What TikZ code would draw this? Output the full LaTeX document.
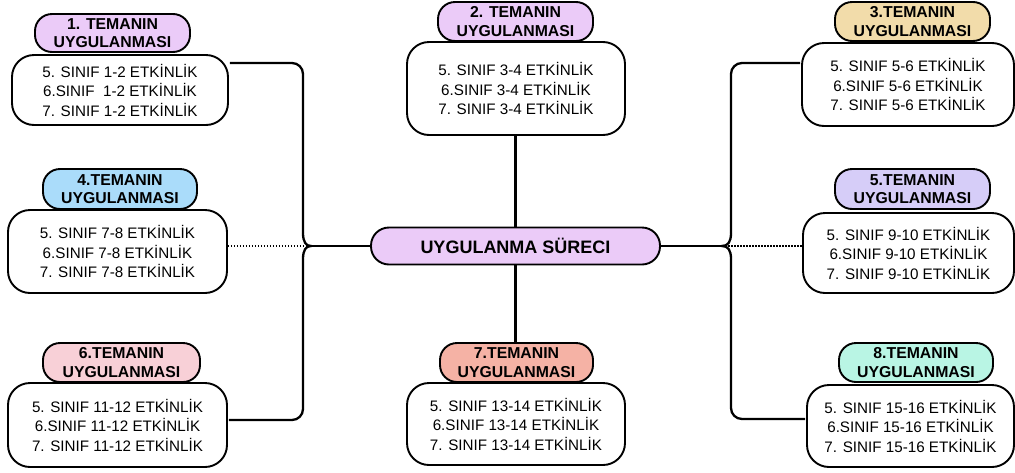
\documentclass[tikz,border=0pt]{standalone}
\usepackage{fontspec}
\setmainfont{Liberation Sans}
\usetikzlibrary{calc}
\definecolor{lilac}{HTML}{EBCBF8}
\definecolor{sand}{HTML}{F2DCAA}
\definecolor{sky}{HTML}{AADCFA}
\definecolor{lavender}{HTML}{D6CDF8}
\definecolor{blush}{HTML}{F8D0D7}
\definecolor{salmon}{HTML}{F5B2A5}
\definecolor{mint}{HTML}{B9F5E4}
\begin{document}
\begin{tikzpicture}[x=1pt,y=-1pt,
  body/.style={draw=black, line width=1.9pt, fill=white, rounded corners=22pt,
    align=center, inner sep=0pt, font=\fontsize{15.2}{19.5}\selectfont},
  title/.style={draw=black, line width=1.9pt, rounded corners=17pt,
    align=center, inner sep=0pt, font=\bfseries\fontsize{15.8}{18.5}\selectfont},
  hub/.style={draw=black, line width=1.9pt, fill=lilac, rounded corners=18pt,
    inner sep=0pt, font=\bfseries\fontsize{18}{20}\selectfont},
  conn/.style={draw=black, line width=2.3pt},
  dots/.style={draw=black, line width=1.4pt, dash pattern=on 1.5pt off 1.5pt}]
\useasboundingbox (0,0) rectangle (1015,472);

% central node
\node[hub, minimum width=289pt, minimum height=37pt] (hub) at (515.5,246) {UYGULANMA SÜRECI};

% activity boxes
\node[body, minimum width=216pt, minimum height=70pt] (b1) at (120,90)
  {5. SINIF 1-2 ETKİNLİK\\6.SINIF\ \ 1-2 ETKİNLİK\\7. SINIF 1-2 ETKİNLİK};
\node[body, minimum width=218pt, minimum height=93pt] (b2) at (516,88.5)
  {5. SINIF 3-4 ETKİNLİK\\6.SINIF 3-4 ETKİNLİK\\7. SINIF 3-4 ETKİNLİK};
\node[body, minimum width=212pt, minimum height=83pt] (b3) at (908,84.5)
  {5. SINIF 5-6 ETKİNLİK\\6.SINIF 5-6 ETKİNLİK\\7. SINIF 5-6 ETKİNLİK};
\node[body, minimum width=219pt, minimum height=83pt] (b4) at (117.5,251.5)
  {5. SINIF 7-8 ETKİNLİK\\6.SINIF 7-8 ETKİNLİK\\7. SINIF 7-8 ETKİNLİK};
\node[body, minimum width=211pt, minimum height=80pt] (b5) at (908.5,253)
  {5. SINIF 9-10 ETKİNLİK\\6.SINIF 9-10 ETKİNLİK\\7. SINIF 9-10 ETKİNLİK};
\node[body, minimum width=219pt, minimum height=84pt] (b6) at (117.5,425)
  {5. SINIF 11-12 ETKİNLİK\\6.SINIF 11-12 ETKİNLİK\\7. SINIF 11-12 ETKİNLİK};
\node[body, minimum width=218pt, minimum height=82pt] (b7) at (516,424)
  {5. SINIF 13-14 ETKİNLİK\\6.SINIF 13-14 ETKİNLİK\\7. SINIF 13-14 ETKİNLİK};
\node[body, minimum width=207pt, minimum height=82pt] (b8) at (910.5,426)
  {5. SINIF 15-16 ETKİNLİK\\6.SINIF 15-16 ETKİNLİK\\7. SINIF 15-16 ETKİNLİK};

% theme headers
\node[title, fill=lilac, minimum width=155pt, minimum height=38pt] (t1) at (112.5,33) {1. TEMANIN\\UYGULANMASI};
\node[title, fill=lilac, minimum width=155pt, minimum height=39pt] (t2) at (515.5,21.5) {2. TEMANIN\\UYGULANMASI};
\node[title, fill=sand, minimum width=155pt, minimum height=39pt] (t3) at (912.5,21.5) {3.TEMANIN\\UYGULANMASI};
\node[title, fill=sky, minimum width=154pt, minimum height=40pt] (t4) at (120,189) {4.TEMANIN\\UYGULANMASI};
\node[title, fill=lavender, minimum width=155pt, minimum height=40pt] (t5) at (912.5,189) {5.TEMANIN\\UYGULANMASI};
\node[title, fill=blush, minimum width=157pt, minimum height=39pt] (t6) at (121.5,362.5) {6.TEMANIN\\UYGULANMASI};
\node[title, fill=salmon, minimum width=153pt, minimum height=39pt] (t7) at (516.5,362.5) {7.TEMANIN\\UYGULANMASI};
\node[title, fill=mint, minimum width=154pt, minimum height=39pt] (t8) at (916,362.5) {8.TEMANIN\\UYGULANMASI};

% branch points
\coordinate (tipL) at (311,246);
\coordinate (tipR) at (722,246);
\coordinate (spL) at (303,246);
\coordinate (spR) at (731,246);

% left brace
\draw[conn, rounded corners=11pt] ($(b1.east)+(1,-27)$) -| ($(spL)+(0,-13)$);
\draw[conn] ($(spL)+(0,-13)$) .. controls ($(spL)+(0,-4)$) and ($(spL)+(3,0)$) .. (tipL)
  .. controls ($(spL)+(3,0)$) and ($(spL)+(0,4)$) .. ($(spL)+(0,13)$);
\draw[conn, rounded corners=11pt] ($(spL)+(0,13)$) |- ($(b6.east)+(1,-5)$);
\draw[conn] (tipL) -- (hub.west);
\draw[dots] (b4.east |- tipL) -- (tipL);

% right brace
\draw[conn, rounded corners=11pt] ($(b3.west)+(-1,-21.5)$) -| ($(spR)+(0,-13)$);
\draw[conn] ($(spR)+(0,-13)$) .. controls ($(spR)+(0,-4)$) and ($(spR)+(-3,0)$) .. (tipR)
  .. controls ($(spR)+(-3,0)$) and ($(spR)+(0,4)$) .. ($(spR)+(0,13)$);
\draw[conn, rounded corners=11pt] ($(spR)+(0,13)$) |- ($(b8.west)+(-1,-7)$);
\draw[conn] (hub.east) -- (tipR);
\draw[dots] (tipR) -- (b5.west |- tipR);

% vertical trunk
\draw[conn] (hub.north |- b2.south) -- (hub.north);
\draw[conn] (hub.south) -- (hub.south |- t7.north);
\end{tikzpicture}
\end{document}
